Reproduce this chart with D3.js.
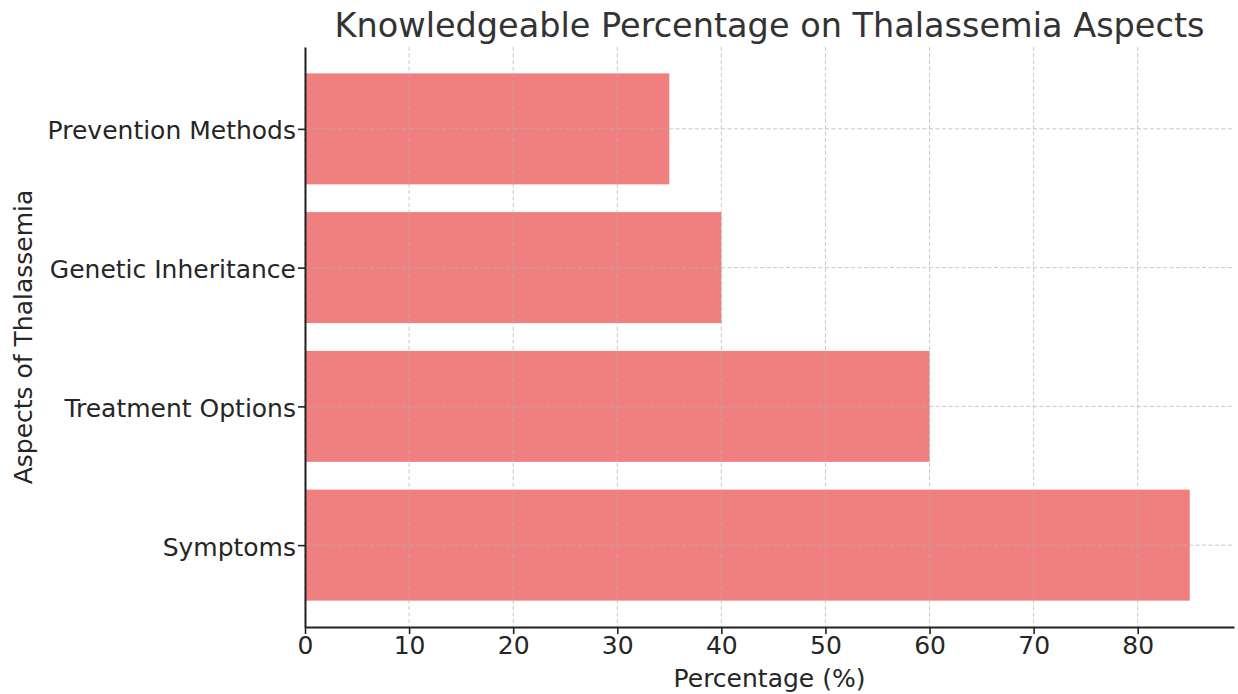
<!DOCTYPE html>
<html>
<head>
<meta charset="utf-8">
<script src="https://cdn.jsdelivr.net/npm/d3@7/dist/d3.min.js"></script>
<style>
  html, body { margin: 0; padding: 0; background: #fff; }
  svg { display: block; font-family: "DejaVu Sans", sans-serif; }
</style>
</head>
<body>
<svg id="chart" width="1238" height="694"></svg>
<script>
// Knowledge levels per aspect (percent), listed bottom to top
const aspects = ["Symptoms", "Treatment Options", "Genetic Inheritance", "Prevention Methods"];
const percentages = [85, 60, 40, 35];
const xTicks = [0, 10, 20, 30, 40, 50, 60, 70, 80];

const svg = d3.select("#chart");
const margin = { left: 305, right: 4, top: 47, bottom: 67 };
const W = 1238, H = 694;
const plotW = W - margin.left - margin.right;
const plotH = H - margin.top - margin.bottom;

const xMax = d3.max(percentages) * 1.05;
const x = d3.scaleLinear().domain([0, xMax]).range([0, plotW]);

// category index positions with padding around the bars (bar height 0.8)
const n = aspects.length;
const y = d3.scaleLinear().domain([-0.59, n - 1 + 0.59]).range([plotH, 0]);
const barH = 0.8;

const g = svg.append("g").attr("transform", `translate(${margin.left},${margin.top})`);

// bars
g.selectAll("rect.bar")
  .data(aspects.map((a, i) => ({ a, v: percentages[i], i })))
  .join("rect")
  .attr("class", "bar")
  .attr("x", x(0))
  .attr("y", d => y(d.i + barH / 2))
  .attr("width", d => x(d.v) - x(0))
  .attr("height", d => y(d.i - barH / 2) - y(d.i + barH / 2))
  .attr("fill", "#F08080");

// dashed grid over the bars
const grid = g.append("g").attr("class", "grid");
grid.selectAll("line.vx")
  .data(xTicks)
  .join("line")
  .attr("x1", d => x(d)).attr("x2", d => x(d))
  .attr("y1", 0).attr("y2", plotH)
  .attr("stroke", "#b0b0b0").attr("stroke-opacity", 0.7)
  .attr("stroke-width", 1).attr("stroke-dasharray", "4,2.5");
grid.selectAll("line.hy")
  .data(d3.range(n))
  .join("line")
  .attr("x1", 0).attr("x2", plotW)
  .attr("y1", d => y(d)).attr("y2", d => y(d))
  .attr("stroke", "#b0b0b0").attr("stroke-opacity", 0.7)
  .attr("stroke-width", 1).attr("stroke-dasharray", "4,2.5");

// x axis
const xAxis = g.append("g")
  .attr("transform", `translate(0,${plotH})`)
  .call(d3.axisBottom(x).tickValues(xTicks).tickSize(7).tickPadding(2).tickSizeOuter(0));
xAxis.select(".domain").attr("stroke", "#222").attr("stroke-width", 2);
xAxis.selectAll(".tick line").attr("stroke", "#222").attr("stroke-width", 1.6);
xAxis.selectAll(".tick text").attr("fill", "#262626").style("font-size", "25px")
  .style("font-family", "DejaVu Sans, sans-serif");

// y axis
const yAxis = g.append("g")
  .call(d3.axisLeft(y).tickValues(d3.range(n)).tickFormat(i => aspects[i])
    .tickSize(7).tickPadding(2).tickSizeOuter(0));
yAxis.select(".domain").attr("stroke", "#222").attr("stroke-width", 2);
yAxis.selectAll(".tick line").attr("stroke", "#222").attr("stroke-width", 1.6);
yAxis.selectAll(".tick text").attr("fill", "#262626").attr("dy", "0.4em")
  .style("font-size", "25px")
  .style("font-family", "DejaVu Sans, sans-serif");

// title and axis labels
svg.append("text")
  .attr("x", margin.left + plotW / 2).attr("y", 37)
  .attr("text-anchor", "middle")
  .attr("fill", "#333")
  .style("font-size", "33.5px")
  .text("Knowledgeable Percentage on Thalassemia Aspects");

svg.append("text")
  .attr("x", margin.left + plotW / 2).attr("y", 687)
  .attr("text-anchor", "middle")
  .attr("fill", "#262626")
  .style("font-size", "25px")
  .text("Percentage (%)");

svg.append("text")
  .attr("transform", `translate(32,${margin.top + plotH / 2}) rotate(-90)`)
  .attr("text-anchor", "middle")
  .attr("fill", "#262626")
  .style("font-size", "25px")
  .text("Aspects of Thalassemia");
</script>
</body>
</html>
